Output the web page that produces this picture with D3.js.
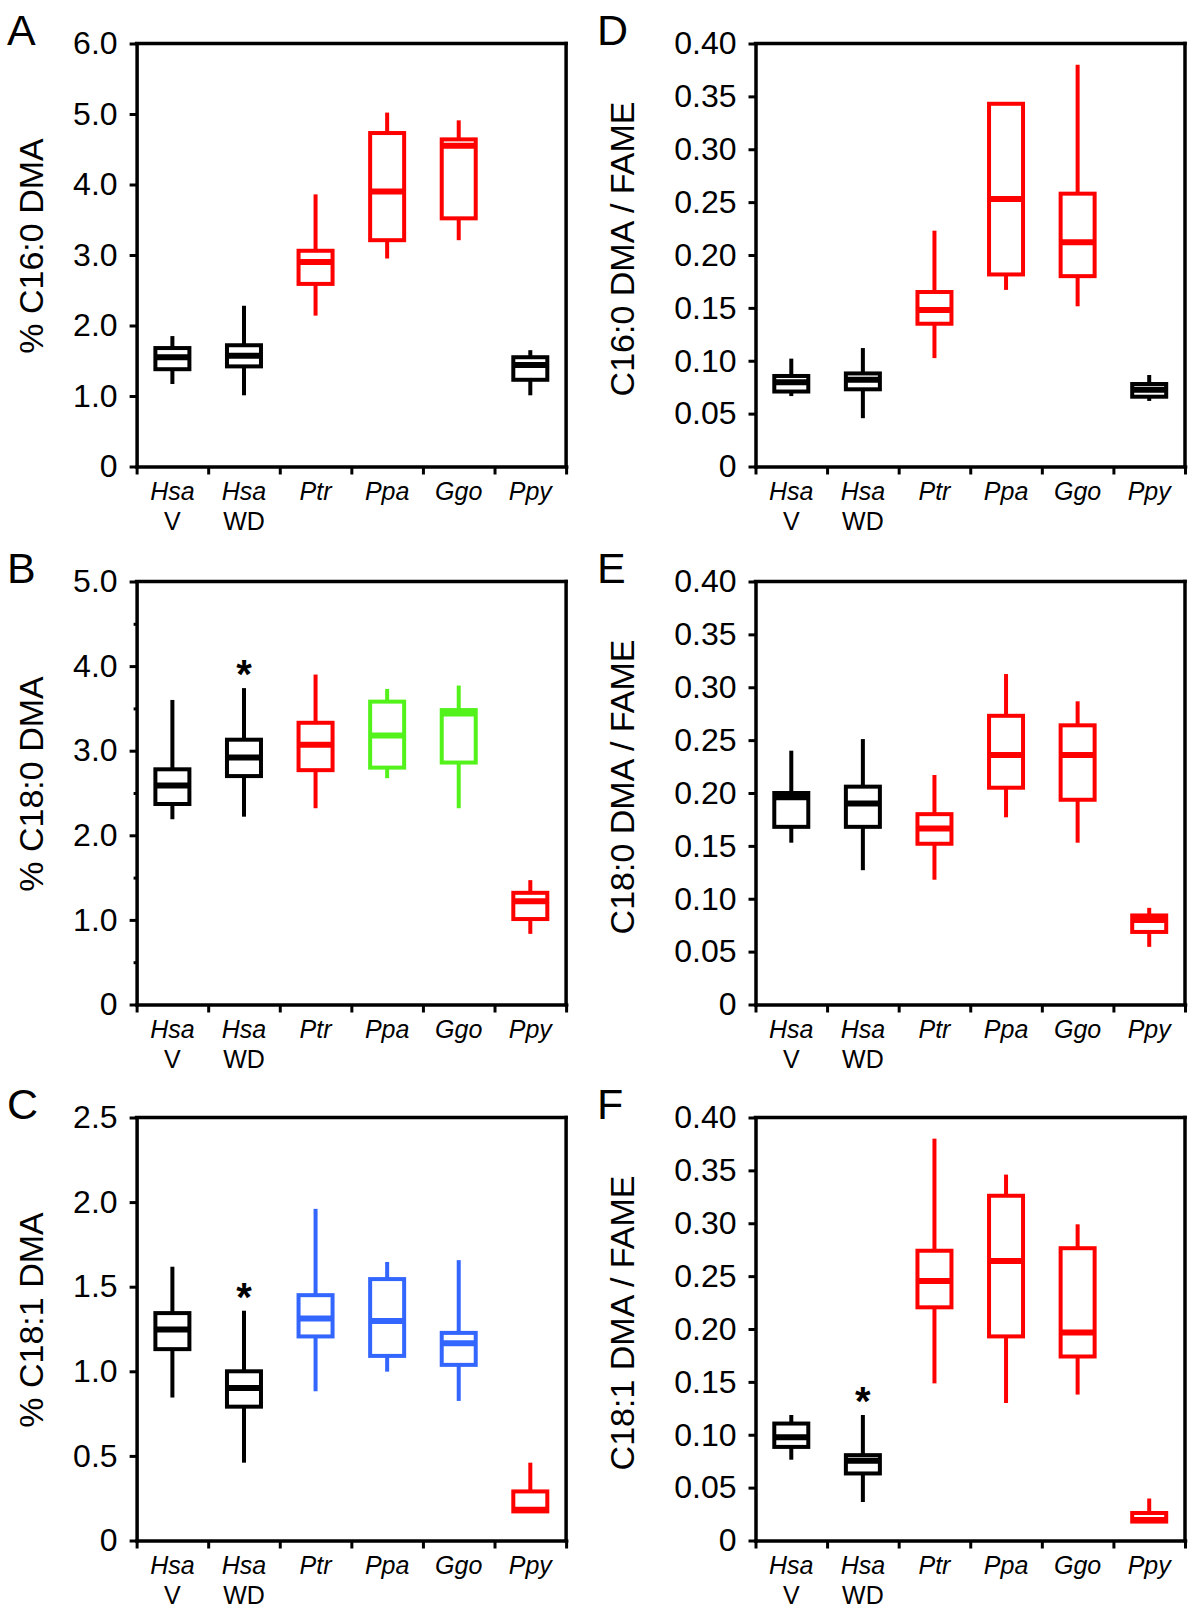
<!DOCTYPE html>
<html><head><meta charset="utf-8">
<script src="https://cdn.jsdelivr.net/npm/d3@7"></script>
<style>
body{margin:0;background:#fff}
svg{display:block}
text{font-family:"Liberation Sans", Arial, sans-serif;fill:#000}
</style>
</head><body>
<svg id="chart" width="1200" height="1622"></svg>
<script>
// ---------- DATA ----------
const categories = ["Hsa V","Hsa WD","Ptr","Ppa","Ggo","Ppy"];
const catLine1 = ["Hsa","Hsa","Ptr","Ppa","Ggo","Ppy"];
const catLine2 = ["V","WD","","","",""];

// box stats per category: [whisker low, Q1, median, Q3, whisker high]
const panelA_stats = [
  [1.17, 1.38, 1.55, 1.68, 1.85],
  [1.01, 1.42, 1.57, 1.72, 2.28],
  [2.14, 2.59, 2.90, 3.06, 3.86],
  [2.95, 3.21, 3.90, 4.73, 5.02],
  [3.21, 3.52, 4.55, 4.64, 4.91],
  [1.01, 1.23, 1.44, 1.55, 1.65]
];
const panelB_stats = [
  [2.19, 2.37, 2.59, 2.78, 3.60],
  [2.22, 2.70, 2.92, 3.13, 3.74],
  [2.32, 2.77, 3.07, 3.33, 3.90],
  [2.675, 2.80, 3.18, 3.58, 3.73],
  [2.32, 2.86, 3.44, 3.48, 3.77],
  [0.835, 1.01, 1.22, 1.32, 1.47]
];
const panelC_stats = [
  [0.845, 1.131, 1.247, 1.344, 1.618],
  [0.46, 0.791, 0.902, 1.00, 1.358],
  [0.882, 1.206, 1.312, 1.45, 1.96],
  [0.998, 1.091, 1.298, 1.545, 1.646],
  [0.825, 1.038, 1.166, 1.227, 1.657],
  [0.172, 0.172, 0.182, 0.29, 0.46]
];
const panelD_stats = [
  [0.0666, 0.0709, 0.0797, 0.0856, 0.102],
  [0.0457, 0.073, 0.082, 0.088, 0.112],
  [0.1025, 0.135, 0.148, 0.165, 0.223],
  [0.167, 0.1816, 0.253, 0.343, 0.343],
  [0.1515, 0.180, 0.212, 0.258, 0.380],
  [0.062, 0.066, 0.0725, 0.078, 0.0865]
];
const panelE_stats = [
  [0.153, 0.168, 0.196, 0.200, 0.240],
  [0.127, 0.168, 0.190, 0.206, 0.251],
  [0.118, 0.152, 0.1665, 0.180, 0.217],
  [0.177, 0.205, 0.236, 0.273, 0.3125],
  [0.153, 0.1936, 0.236, 0.264, 0.2867],
  [0.0545, 0.0686, 0.080, 0.0842, 0.0914]
];
const panelF_stats = [
  [0.0764, 0.0885, 0.0976, 0.1106, 0.1187],
  [0.0364, 0.0634, 0.0754, 0.0807, 0.1187],
  [0.1486, 0.2205, 0.2455, 0.274, 0.38],
  [0.130, 0.193, 0.2644, 0.326, 0.346],
  [0.138, 0.174, 0.1967, 0.2764, 0.299],
  [0.0179, 0.0179, 0.0195, 0.026, 0.0397]
];

const panelA_colors = ["k","k","r","r","r","k"];
const panelB_colors = ["k","k","r","g","g","r"];
const panelC_colors = ["k","k","b","b","b","r"];
const panelD_colors = ["k","k","r","r","r","k"];
const panelE_colors = ["k","k","r","r","r","r"];
const panelF_colors = ["k","k","r","r","r","r"];

// significance markers: [category, value]
const panelB_marks = [["Hsa WD", 4.01]];
const panelC_marks = [["Hsa WD", 1.49]];
const panelF_marks = [["Hsa WD", 0.14]];

const ticksPct6 = [0,1,2,3,4,5,6];
const ticksPct5 = [0,1,2,3,4,5];
const ticksPct25 = [0,0.5,1,1.5,2,2.5];
const ticksRatio = [0,0.05,0.10,0.15,0.20,0.25,0.30,0.35,0.40];
const minorB = [0.5,1.5,2.5,3.5,4.5];

const titles = {
  A:"% C16:0 DMA", B:"% C18:0 DMA", C:"% C18:1 DMA",
  D:"C16:0 DMA / FAME", E:"C18:0 DMA / FAME", F:"C18:1 DMA / FAME"
};

// ---------- STYLE / LAYOUT ----------
const palette = {k:"#000000", r:"#ff0000", g:"#52f21a", b:"#3366ff"};
const plotW = 429.5, plotH = 423;
const colX = [136.6, 755.5];
const rowY = [43.5, 581.5, 1117.5];
const fmt1 = v => v === 0 ? "0" : d3.format(".1f")(v);
const fmt2 = v => v === 0 ? "0" : d3.format(".2f")(v);

const panels = [
  {id:"A", col:0, row:0, max:6,   ticks:ticksPct6,  fmt:fmt1, stats:panelA_stats, colors:panelA_colors, marks:[], minor:[]},
  {id:"B", col:0, row:1, max:5,   ticks:ticksPct5,  fmt:fmt1, stats:panelB_stats, colors:panelB_colors, marks:panelB_marks, minor:minorB},
  {id:"C", col:0, row:2, max:2.5, ticks:ticksPct25, fmt:fmt1, stats:panelC_stats, colors:panelC_colors, marks:panelC_marks, minor:[]},
  {id:"D", col:1, row:0, max:0.4, ticks:ticksRatio, fmt:fmt2, stats:panelD_stats, colors:panelD_colors, marks:[], minor:[]},
  {id:"E", col:1, row:1, max:0.4, ticks:ticksRatio, fmt:fmt2, stats:panelE_stats, colors:panelE_colors, marks:[], minor:[]},
  {id:"F", col:1, row:2, max:0.4, ticks:ticksRatio, fmt:fmt2, stats:panelF_stats, colors:panelF_colors, marks:panelF_marks, minor:[]}
];

const svg = d3.select("#chart");
svg.append("rect").attr("width",1200).attr("height",1622).attr("fill","#fff");

const axisW = 3.5, boxW = 34, boxStroke = 4, medStroke = 6;

panels.forEach(p => {
  const x0 = colX[p.col], y0 = rowY[p.row];
  const g = svg.append("g");
  const xb = d3.scaleBand().domain(categories).range([x0, x0 + plotW]).padding(0);
  const xi = d3.scaleLinear().domain([0, categories.length]).range([x0, x0 + plotW]);
  const y = d3.scaleLinear().domain([0, p.max]).range([y0 + plotH, y0]);

  // frame (top & right)
  g.append("line").attr("x1", x0).attr("x2", x0 + plotW).attr("y1", y0).attr("y2", y0)
    .attr("stroke","#000").attr("stroke-width", axisW).attr("stroke-linecap","square");
  g.append("line").attr("x1", x0 + plotW).attr("x2", x0 + plotW).attr("y1", y0).attr("y2", y0 + plotH)
    .attr("stroke","#000").attr("stroke-width", axisW).attr("stroke-linecap","square");

  // y axis
  const ya = g.append("g").attr("transform", `translate(${x0},0)`)
    .call(d3.axisLeft(y).tickValues(p.ticks).tickFormat(p.fmt).tickSize(7).tickSizeOuter(0).tickPadding(12));
  // minor ticks
  if (p.minor.length) {
    g.append("g").attr("transform", `translate(${x0},0)`)
      .call(d3.axisLeft(y).tickValues(p.minor).tickFormat("").tickSize(3).tickSizeOuter(0))
      .call(s => s.select(".domain").remove());
  }
  // x axis (ticks at band boundaries)
  g.append("g").attr("transform", `translate(0,${y0 + plotH})`)
    .call(d3.axisBottom(xi).tickValues(d3.range(categories.length + 1)).tickFormat("").tickSize(8).tickSizeOuter(0));

  g.selectAll(".domain").attr("stroke","#000").attr("stroke-width", axisW).attr("stroke-linecap","square");
  g.selectAll(".tick line").attr("stroke","#000").attr("stroke-width", 3);
  ya.selectAll(".tick text").attr("font-size", 32).attr("font-family","Liberation Sans, Arial, sans-serif").attr("fill","#000");

  // category labels
  const lab = g.append("g");
  categories.forEach((c, i) => {
    const cx = xb(c) + xb.bandwidth() / 2;
    lab.append("text").attr("x", cx).attr("y", y0 + plotH + 33).attr("text-anchor","middle")
      .attr("font-size", 25).attr("font-style","italic").text(catLine1[i]);
    if (catLine2[i]) lab.append("text").attr("x", cx).attr("y", y0 + plotH + 63).attr("text-anchor","middle")
      .attr("font-size", 25).text(catLine2[i]);
  });

  // boxes
  categories.forEach((c, i) => {
    const [lo, q1, med, q3, hi] = p.stats[i];
    const col = palette[p.colors[i]];
    const cx = xb(c) + xb.bandwidth() / 2;
    const bg = g.append("g");
    if (hi > q3) bg.append("line").attr("x1", cx).attr("x2", cx).attr("y1", y(q3)).attr("y2", y(hi))
      .attr("stroke", col).attr("stroke-width", boxStroke);
    if (lo < q1) bg.append("line").attr("x1", cx).attr("x2", cx).attr("y1", y(q1)).attr("y2", y(lo))
      .attr("stroke", col).attr("stroke-width", boxStroke);
    bg.append("rect").attr("x", cx - boxW / 2).attr("width", boxW)
      .attr("y", y(q3)).attr("height", y(q1) - y(q3))
      .attr("fill","none").attr("stroke", col).attr("stroke-width", boxStroke);
    bg.append("line").attr("x1", cx - boxW / 2).attr("x2", cx + boxW / 2).attr("y1", y(med)).attr("y2", y(med))
      .attr("stroke", col).attr("stroke-width", medStroke);
  });

  // significance markers
  p.marks.forEach(([c, v]) => {
    g.append("text").attr("x", xb(c) + xb.bandwidth() / 2).attr("y", y(v) + 23)
      .attr("text-anchor","middle").attr("font-size", 40).attr("font-weight","bold").text("*");
  });

  // y title
  const tx = p.col === 0 ? 43 : 634;
  const ty = y0 + plotH / 2 - (p.col === 0 ? 9 : 6);
  g.append("text").attr("transform", `translate(${tx},${ty}) rotate(-90)`)
    .attr("text-anchor","middle").attr("font-size", 34).text(titles[p.id]);

  // panel letter
  g.append("text").attr("x", p.col === 0 ? 7 : 597).attr("y", y0 + 1)
    .attr("font-size", 43).text(p.id);
});
</script>
</body></html>
